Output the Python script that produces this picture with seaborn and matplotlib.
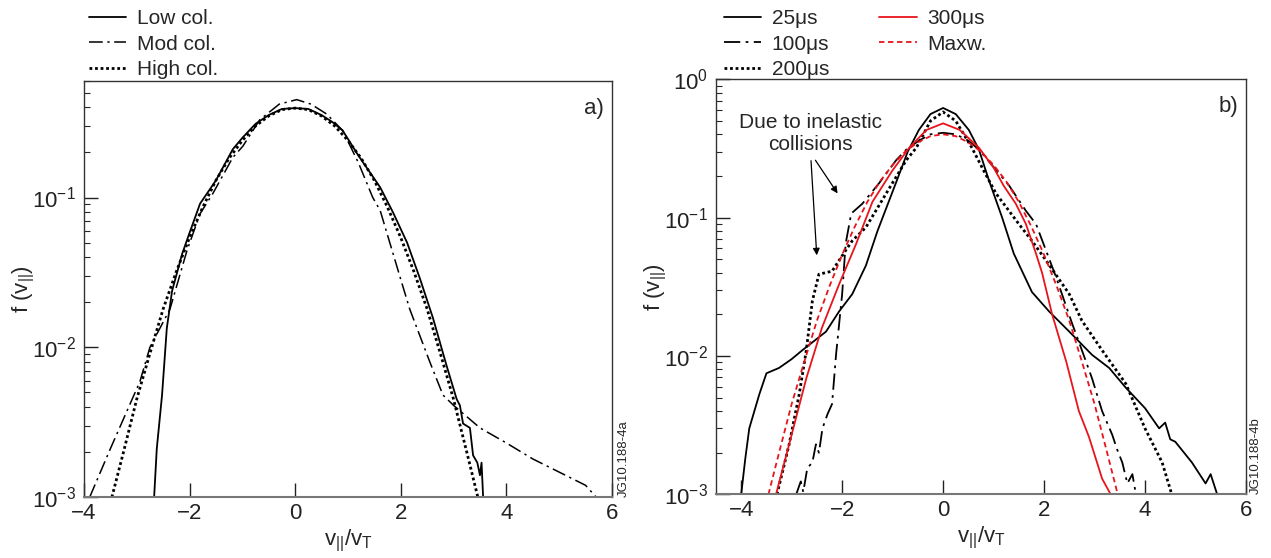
import numpy as np
import pandas as pd
import seaborn as sns
import matplotlib
matplotlib.use("Agg")
import matplotlib.pyplot as plt
from matplotlib.ticker import LogLocator, NullFormatter

sns.set_style("ticks")
plt.rcParams["font.family"] = ["Liberation Sans", "DejaVu Sans"]
plt.rcParams["mathtext.fontset"] = "custom"
plt.rcParams["mathtext.rm"] = "Liberation Sans"
plt.rcParams["mathtext.it"] = "Liberation Sans:italic"

# ---------------- panel a) collisionality scan
a_low_x = [-2.67, -2.62, -2.52, -2.43, -2.33, -2.14, -2.0, -1.8, -1.5, -1.18, -1.0, -0.75, -0.5, -0.25,
           0.0, 0.25, 0.5, 0.7, 0.9, 1.2, 1.61, 1.85, 2.12, 2.36, 2.61, 2.87, 3.06, 3.12, 3.18,
           3.31, 3.37, 3.45, 3.5, 3.53, 3.56]
a_low_y = [0.001, 0.0021, 0.0048, 0.0134, 0.0238, 0.042, 0.058, 0.091, 0.13, 0.21, 0.25, 0.31, 0.355, 0.39,
           0.395, 0.39, 0.355, 0.32, 0.28, 0.19, 0.117, 0.08, 0.05, 0.029, 0.0157, 0.0075, 0.0045, 0.0041, 0.0031,
           0.0029, 0.0019, 0.0017, 0.0014, 0.0017, 0.001]

a_mod_x = [-3.89, -3.5, -2.94, -2.75, -2.37, -2.05, -1.8, -1.56, -1.18, -0.99, -0.67, -0.3, 0.03,
           0.3, 0.6, 0.9, 1.2, 1.47, 1.61, 1.98, 2.17, 2.55, 2.8, 3.0, 3.5, 4.0, 4.5, 5.0, 5.5, 5.7]
a_mod_y = [0.001, 0.0021, 0.0059, 0.01, 0.018, 0.044, 0.078, 0.106, 0.185, 0.22, 0.33, 0.42, 0.45,
           0.42, 0.36, 0.28, 0.17, 0.1, 0.082, 0.03, 0.018, 0.008, 0.0048, 0.0041, 0.0029, 0.0023,
           0.0018, 0.00147, 0.0012, 0.001]

a_high_x = [-3.47, -3.25, -3.0, -2.75, -2.5, -2.25, -2.0, -1.75, -1.5, -1.25, -1.0, -0.75, -0.5, -0.25,
            0.0, 0.25, 0.5, 0.75, 1.0, 1.25, 1.5, 1.75, 2.0, 2.25, 2.5, 2.75, 3.0, 3.25, 3.46]
a_high_y = [0.001, 0.002, 0.0045, 0.0091, 0.018, 0.032, 0.054, 0.086, 0.13, 0.183, 0.24, 0.3, 0.35, 0.386,
            0.395, 0.386, 0.35, 0.3, 0.24, 0.183, 0.13, 0.086, 0.054, 0.032, 0.018, 0.0091, 0.0045, 0.002, 0.001]

# ---------------- panel b) time evolution
b_25_x = [-4.0, -3.92, -3.84, -3.64, -3.5, -3.25, -3.0, -2.79, -2.32, -2.06, -1.8, -1.53, -1.3,
          -0.93, -0.7, -0.48, -0.25, 0.0, 0.25, 0.51, 0.71, 0.91, 1.17, 1.4, 1.76, 2.1, 2.5,
          2.95, 3.29, 3.62, 4.0, 4.28, 4.4, 4.5, 4.6, 4.93, 5.2, 5.3, 5.43]
b_25_y = [0.001, 0.0018, 0.003, 0.0053, 0.0075, 0.0082, 0.0095, 0.011, 0.015, 0.021, 0.028, 0.045, 0.08,
          0.18, 0.3, 0.43, 0.56, 0.62, 0.56, 0.43, 0.31, 0.185, 0.1, 0.055, 0.029, 0.021, 0.015,
          0.0102, 0.0082, 0.0059, 0.0042, 0.003, 0.0033, 0.0025, 0.0024, 0.0017, 0.0012, 0.0014, 0.001]

b_100_x = [-2.91, -2.82, -2.77, -2.69, -2.59, -2.52, -2.46, -2.39, -2.29, -2.2, -2.12, -2.0, -1.93,
           -1.82, -1.6, -1.27, -0.93, -0.73, -0.48, -0.25, 0.0, 0.25, 0.5, 0.71, 1.11, 1.31, 1.64,
           1.84, 2.24, 2.56, 2.75, 2.95, 3.15, 3.35, 3.45, 3.55, 3.65, 3.75, 3.82]
b_100_y = [0.001, 0.00124, 0.00104, 0.00155, 0.0017, 0.0023, 0.002, 0.003, 0.0038, 0.0045, 0.0103, 0.028, 0.065,
           0.107, 0.126, 0.177, 0.26, 0.31, 0.36, 0.4, 0.41, 0.4, 0.36, 0.31, 0.208, 0.17, 0.112,
           0.09, 0.037, 0.017, 0.011, 0.0069, 0.004, 0.0027, 0.0021, 0.0017, 0.0012, 0.0014, 0.001]

b_200_x = [-3.29, -3.05, -2.85, -2.71, -2.59, -2.46, -2.2, -1.93, -1.8, -1.53, -1.13, -0.73, -0.53,
           -0.25, 0.0, 0.25, 0.57, 0.8, 1.05, 1.5, 1.76, 2.04, 2.5, 2.75, 3.15, 3.62, 4.0, 4.34, 4.53]
b_200_y = [0.001, 0.0023, 0.0053, 0.011, 0.025, 0.039, 0.041, 0.058, 0.068, 0.085, 0.149, 0.26, 0.32,
           0.5, 0.58, 0.5, 0.32, 0.22, 0.149, 0.09, 0.068, 0.049, 0.028, 0.018, 0.011, 0.0063, 0.003,
           0.0017, 0.001]

b_300_x = [-3.31, -3.05, -2.71, -2.4, -2.06, -1.72, -1.4, -1.0, -0.67, -0.33, 0.0, 0.33, 0.71,
           1.0, 1.2, 1.44, 1.64, 1.84, 1.96, 2.16, 2.44, 2.69, 2.89, 3.15, 3.32]
b_300_y = [0.001, 0.0023, 0.0069, 0.016, 0.033, 0.065, 0.13, 0.22, 0.32, 0.43, 0.48, 0.43, 0.32,
           0.23, 0.17, 0.126, 0.09, 0.055, 0.04, 0.02, 0.0091, 0.004, 0.0026, 0.0013, 0.001]

b_maxw_x = [-3.46, -3.25, -3.0, -2.75, -2.5, -2.25, -2.0, -1.75, -1.5, -1.25, -1.0, -0.75, -0.5, -0.25,
            0.0, 0.25, 0.5, 0.75, 1.0, 1.25, 1.5, 1.75, 2.0, 2.25, 2.5, 2.75, 3.0, 3.25, 3.46]
b_maxw_y = [0.001, 0.002, 0.0045, 0.0091, 0.018, 0.032, 0.054, 0.086, 0.13, 0.183, 0.24, 0.3, 0.35, 0.388,
            0.4, 0.388, 0.35, 0.3, 0.24, 0.183, 0.13, 0.086, 0.054, 0.032, 0.018, 0.0091, 0.0045, 0.002, 0.001]

SOLID = "-"
DASHDOT = (0, (9, 3, 1.5, 3))
DOTTED = (0, (1, 1))
DASHED = (0, (3, 2))

fig = plt.figure(figsize=(12.71, 5.58), dpi=100)
ax1 = fig.add_axes([0.066, 0.109, 0.4155, 0.746])
ax2 = fig.add_axes([0.5633, 0.114, 0.417, 0.744])

series_a = [
    (a_low_x, a_low_y, "Low col.", "black", SOLID, 1.3),
    (a_mod_x, a_mod_y, "Mod col.", "black", DASHDOT, 1.1),
    (a_high_x, a_high_y, "High col.", "black", DOTTED, 2.0),
]
for x, y, lab, c, ls, lw in series_a:
    sns.lineplot(x=x, y=y, ax=ax1, color=c, linestyle=ls, linewidth=lw, label=lab)

series_b = [
    (b_25_x, b_25_y, "25\u03bcs", "black", SOLID, 1.3),
    (b_100_x, b_100_y, "100\u03bcs", "black", DASHDOT, 1.3),
    (b_200_x, b_200_y, "200\u03bcs", "black", DOTTED, 2.0),
    (b_300_x, b_300_y, "300\u03bcs", "#e8141b", SOLID, 1.3),
    (b_maxw_x, b_maxw_y, "Maxw.", "#e8141b", DASHED, 1.3),
]
for x, y, lab, c, ls, lw in series_b:
    sns.lineplot(x=x, y=y, ax=ax2, color=c, linestyle=ls, linewidth=lw, label=lab)

for ax, top, xmin in [(ax1, 0.6, -4), (ax2, 1.0, -4.5)]:
    ax.set_yscale("log")
    ax.set_ylim(1e-3, top)
    ax.set_xlim(xmin, 6)
    ax.set_xticks([-4, -2, 0, 2, 4, 6])
    ax.set_xticklabels(["\u22124", "\u22122", "0", "2", "4", "6"])
    ax.yaxis.set_major_locator(LogLocator(base=10, numticks=10))
    ax.yaxis.set_minor_locator(LogLocator(base=10, subs=np.arange(2, 10), numticks=10))
    ax.yaxis.set_minor_formatter(NullFormatter())
    ax.tick_params(axis="both", which="major", direction="in", length=10, width=1,
                   labelsize=16, colors="#222222", pad=6)
    ax.tick_params(axis="y", which="minor", direction="in", length=4, width=0.8)
    ax.tick_params(axis="x", pad=4)
    for s in ax.spines.values():
        s.set_linewidth(1.0)
        s.set_color("#333333")
    ax.spines["bottom"].set_color("#777777")
    ax.spines["bottom"].set_linewidth(1.5)
    ax.set_xlabel("v$_{||}$/v$_{\\mathrm{T}}$", fontsize=16, labelpad=3)
    ax.set_ylabel("f (v$_{||}$)", fontsize=16)
    ax.yaxis.set_label_coords(-0.088, 0.5)
    ax.get_legend().remove()

h1, l1 = ax1.get_legend_handles_labels()
fig.legend(h1, l1, loc="lower left", bbox_to_anchor=(0.070, 0.858), frameon=False, fontsize=15,
           handlelength=1.8, handletextpad=0.5, labelspacing=0.32, borderaxespad=0.0,
           borderpad=0.0)
h2, l2 = ax2.get_legend_handles_labels()
fig.legend(h2, l2, loc="lower left", bbox_to_anchor=(0.5695, 0.858), frameon=False, fontsize=15,
           ncol=2, handlelength=1.8, handletextpad=0.5, labelspacing=0.32, columnspacing=2.4,
           borderaxespad=0.0, borderpad=0.0)

ax1.text(0.985, 0.96, "a)", transform=ax1.transAxes, ha="right", va="top", fontsize=16)
ax2.text(0.985, 0.96, "b)", transform=ax2.transAxes, ha="right", va="top", fontsize=16)
ax1.text(1.012, 0.0, "JG10.188-4a", transform=ax1.transAxes, rotation=90, ha="left",
         va="bottom", fontsize=9.5)
ax2.text(1.008, 0.0, "JG10.188-4b", transform=ax2.transAxes, rotation=90, ha="left",
         va="bottom", fontsize=9.5)

ax2.annotate("", xy=(-2.5, 0.051), xytext=(-2.62, 0.27),
             arrowprops=dict(arrowstyle="-|>", color="black", lw=0.9, mutation_scale=10))
ax2.annotate("", xy=(-2.06, 0.144), xytext=(-2.56, 0.27),
             arrowprops=dict(arrowstyle="-|>", color="black", lw=0.9, mutation_scale=10))
ax2.text(-2.62, 0.29, "Due to inelastic\ncollisions", ha="center", va="bottom",
         fontsize=15, linespacing=1.15)

fig.savefig("out.png", dpi=100)
